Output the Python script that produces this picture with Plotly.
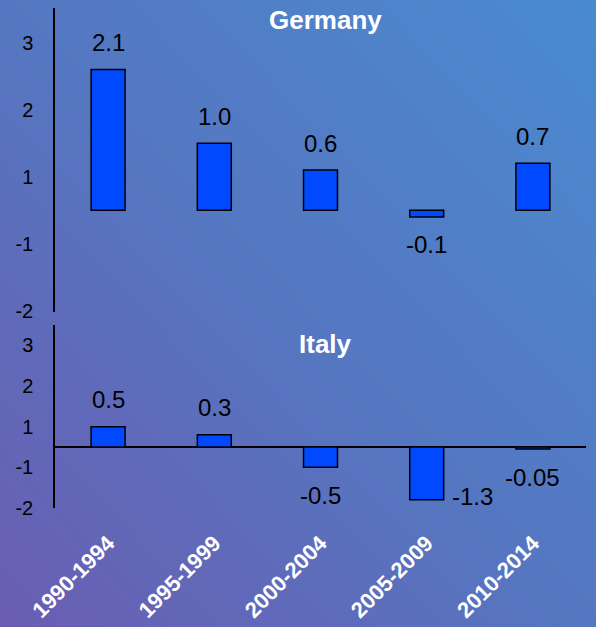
import numpy as np
import plotly.graph_objects as go

# Five-year periods and growth values per country
periods = ["1990-1994", "1995-1999", "2000-2004", "2005-2009", "2010-2014"]
germany = [2.1, 1.0, 0.6, -0.1, 0.7]
italy = [0.5, 0.3, -0.5, -1.3, -0.05]
germany_text = ["2.1", "1.0", "0.6", "-0.1", "0.7"]
italy_text = ["0.5", "0.3", "-0.5", "-1.3", "-0.05"]

# Axis tick labels
tick_vals = [2.5, 1.5, 0.5, -0.5, -1.5]
tick_text = ["3", "2", "1", "-1", "-2"]

W, H = 596, 627
FONT = "Liberation Sans, Arial, sans-serif"
BAR_BLUE = "#0049ff"

# Diagonal background gradient (bottom-left purple -> top-right blue)
n = 60
u = np.linspace(0, 1, n)
gx, gy = np.meshgrid(u, u)
grad = (gx + gy) / 2.0

fig = go.Figure()
fig.add_trace(go.Heatmap(
    z=grad, x=np.arange(n), y=np.arange(n), zsmooth="best",
    colorscale=[[0, "#6a5db2"], [0.5, "#5577c1"], [1, "#4a8bd0"]],
    showscale=False, hoverinfo="skip", xaxis="x", yaxis="y",
))

bar_style = dict(marker=dict(color=BAR_BLUE, line=dict(color="black", width=1.5)),
                 width=0.32, hoverinfo="skip", showlegend=False)
fig.add_trace(go.Bar(x=periods, y=germany, xaxis="x2", yaxis="y2", **bar_style))
fig.add_trace(go.Bar(x=periods, y=italy, xaxis="x3", yaxis="y3", **bar_style))

x_dom = [55 / W, 586 / W]
ger_dom = [1 - 312 / H, 1 - 8 / H]
ita_dom = [1 - 508 / H, 1 - 325 / H]

yaxis_common = dict(
    tickvals=tick_vals, ticktext=tick_text, showgrid=False,
    showline=True, linecolor="black", linewidth=1.5, ticks="",
    ticklabelstandoff=16, tickfont=dict(family=FONT, size=20, color="black"),
    fixedrange=True, automargin=False,
)

fig.update_layout(
    width=W, height=H, margin=dict(l=0, r=0, t=0, b=0, autoexpand=False),
    paper_bgcolor="#5577c1", plot_bgcolor="rgba(0,0,0,0)",
    showlegend=False,
    xaxis=dict(domain=[0, 1], range=[0, n - 1], visible=False, fixedrange=True,
               automargin=False),
    yaxis=dict(domain=[0, 1], range=[0, n - 1], visible=False, fixedrange=True,
               automargin=False),
    xaxis2=dict(domain=x_dom, anchor="y2", showticklabels=False, showline=False,
                showgrid=False, ticks="", fixedrange=True, automargin=False),
    yaxis2=dict(domain=ger_dom, anchor="x2", range=[-1.52, 3.02], zeroline=False,
                **yaxis_common),
    xaxis3=dict(domain=x_dom, anchor="y3", showline=False, showgrid=False, ticks="",
                tickangle=-45, ticklabelstandoff=17, automargin=False,
                tickfont=dict(family=FONT, size=22, color="white", weight="bold"),
                fixedrange=True),
    yaxis3=dict(domain=ita_dom, anchor="x3", range=[-1.5, 3.0], zeroline=True,
                zerolinecolor="black", zerolinewidth=1.5, **yaxis_common),
)

# Panel titles
for name, ypix in [("Germany", 20), ("Italy", 344)]:
    fig.add_annotation(text=name, xref="paper", yref="paper", x=325 / W, y=1 - ypix / H,
                       showarrow=False, xanchor="center", yanchor="middle",
                       font=dict(family=FONT, size=26, color="white", weight="bold"))

# Value labels above positive bars, below negative bars
label_font = dict(family=FONT, size=24, color="black")
for axis_suffix, values, texts in [("2", germany, germany_text), ("3", italy, italy_text)]:
    for cat, v, t in zip(periods, values, texts):
        xshift, yshift = 0, (27 if v >= 0 else -28)
        if axis_suffix == "3" and v <= -1:
            xshift, yshift = 46, 3
        fig.add_annotation(text=t, x=cat, y=v, xref="x" + axis_suffix, yref="y" + axis_suffix,
                           showarrow=False, xanchor="center", yanchor="middle",
                           xshift=xshift, yshift=yshift, font=label_font)

fig.write_html("out.html")
